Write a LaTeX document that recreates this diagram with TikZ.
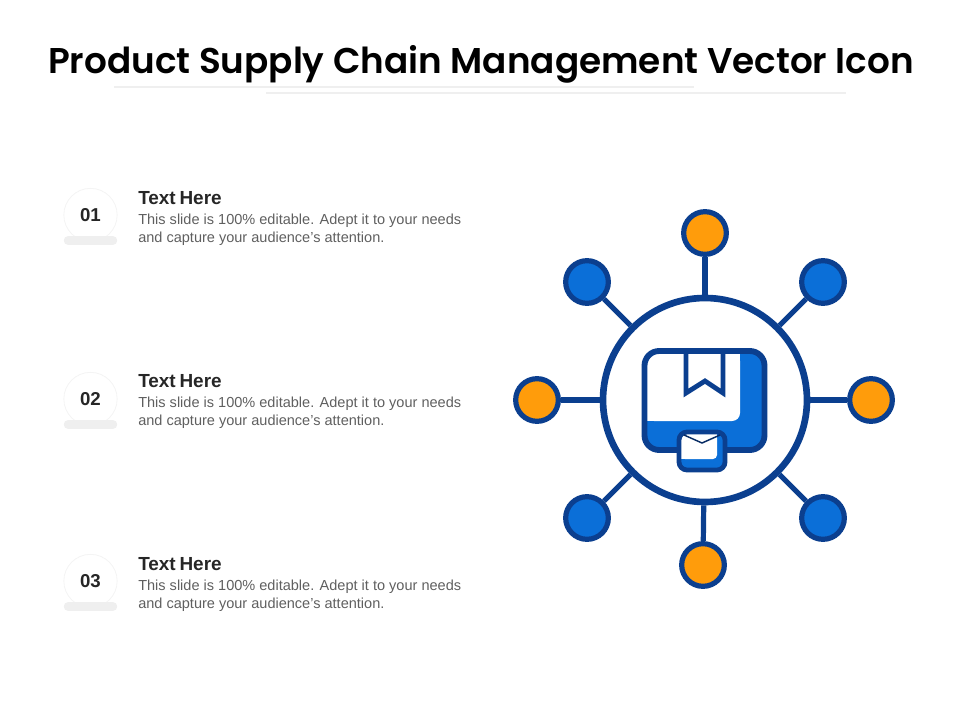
\documentclass[tikz,border=0pt]{standalone}
\usepackage{fontspec}
\setmainfont{Liberation Sans}
\newfontfamily\titlefont{Poppins SemiBold}
\definecolor{navy}{HTML}{0B3F8F}
\definecolor{midblue}{HTML}{0B6FD8}
\definecolor{amber}{HTML}{FF9C0B}
\definecolor{softline}{HTML}{EFEFEF}
\definecolor{softring}{HTML}{F4F4F4}
\definecolor{bodygrey}{HTML}{5F5F5F}
\definecolor{headgrey}{HTML}{262626}
\tikzset{
  px/.style={x=0.75pt,y=-0.75pt},
  hubring/.style={circle,draw=navy,line width=5pt,minimum size=153pt,inner sep=0pt,fill=white},
  satblue/.style={circle,draw=navy,line width=3.9pt,fill=midblue,minimum size=32pt,inner sep=0pt},
  satamber/.style={circle,draw=navy,line width=3.9pt,fill=amber,minimum size=32pt,inner sep=0pt},
  spoke/.style={draw=navy,line width=3.9pt},
  numring/.style={circle,draw=softring,line width=0.6pt,fill=white,minimum size=40pt,inner sep=0pt,font=\fontsize{14}{16}\selectfont\bfseries,text=headgrey},
  numbar/.style={draw=none,fill=softline,rounded corners=3pt,minimum width=40pt,minimum height=6.5pt,inner sep=0pt},
  headtext/.style={anchor=west,inner sep=0pt,font=\fontsize{14.2}{16}\selectfont\bfseries,text=headgrey},
  bodytext/.style={anchor=north west,inner sep=0pt,align=left,font=\fontsize{10.9}{13.7}\selectfont,text=bodygrey},
  iconedge/.style={draw=navy,line width=4.4pt,line join=round},
  rulestyle/.style={draw=softline,line width=1pt},
}
\newcommand{\bodycopy}{This slide is 100\% editable. Adept it to your needs\\and capture your audience’s attention.}
\newcommand{\headcopy}{Text\kern0.2em Here}
\begin{document}
\begin{tikzpicture}[px]
\useasboundingbox (0,0) rectangle (960,720);
\node[inner sep=0pt,font=\fontsize{26.85}{32}\selectfont\titlefont,text=black] (title) at (481,64) {Product Supply Chain Management Vector Icon};
\coordinate (ruleAa) at (114,87); \coordinate (ruleAb) at (694,87);
\coordinate (ruleBa) at (266,93); \coordinate (ruleBb) at (846,93);
\draw[rulestyle] (ruleAa) -- (ruleAb);
\draw[rulestyle] (ruleBa) -- (ruleBb);

\foreach \n/\y/\ty in {01/215/198,02/399/381,03/581/564}{
  \node[numring] (num\n) at (90.5,\y) {\n};
  \node[numbar] (bar\n) at (90.5,\y+25.5) {};
  \node[headtext] (head\n) at (138,\ty) {\headcopy};
  \node[bodytext] (body\n) at (138,\ty+15.5) {\bodycopy};
}

\node[hubring] (hub) at (705,400) {};
\node[satamber] (sTop) at (705,233) {};
\node[satblue] (sUL) at (587,282) {};
\node[satblue] (sUR) at (823,282) {};
\node[satamber] (sL) at (537,400) {};
\node[satamber] (sR) at (871,400) {};
\node[satblue] (sLL) at (587,518) {};
\node[satblue] (sLR) at (823,518) {};
\node[satamber] (sBot) at (703,565) {};
\foreach \s in {sTop,sUL,sUR,sL,sR,sLL,sLR,sBot}{
  \path[spoke] (\s) -- (hub);
}

% box
\fill[midblue,rounded corners=11pt] (644.5,351) rectangle (764.5,450);
\fill[white,rounded corners=6pt] (646,353) -- (740,353) -- (740,421) -- (646,421) -- cycle;
\fill[white] (646,353) rectangle (660,421);
\fill[white] (646,353) rectangle (740,370);
\draw[iconedge,rounded corners=11pt] (644.5,351) rectangle (764.5,450);
% bookmark
\draw[iconedge,line width=3.6pt,line join=miter] (686,352) -- (686,393) -- (705,381) -- (723,393) -- (723,352);
% envelope
\fill[midblue,rounded corners=5pt] (679,432) rectangle (725,470);
\fill[white,rounded corners=3pt] (681,434) -- (717,434) -- (717,459) -- (681,459) -- cycle;
\fill[white] (681,434) rectangle (690,459);
\fill[white] (681,434) rectangle (717,445);
\draw[iconedge,line width=3.6pt,rounded corners=6pt] (679,432) rectangle (725,470);
\draw[draw=navy!70!black,line width=1.1pt] (684,435) -- (702,443) -- (720,435);
\end{tikzpicture}
\end{document}
